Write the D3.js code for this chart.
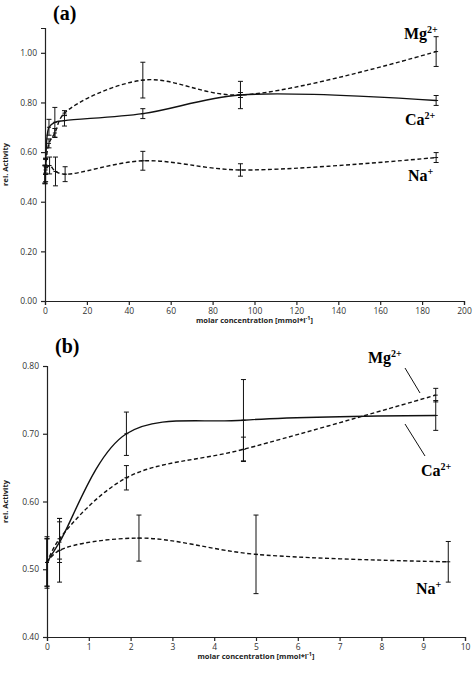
<!DOCTYPE html>
<html><head><meta charset="utf-8">
<script src="https://cdn.jsdelivr.net/npm/d3@7"></script>
<style>body{margin:0;background:#fff}svg{display:block}</style>
</head><body>
<svg id="c" width="474" height="674"></svg>
<script>
const mgX=[0,0.3,1.9,4.7,9.3,46.7,93.3,186.7];
const mgY=[0.51,0.545,0.635,0.677,0.757,0.89,0.83,1.005];
const mgE=[0.035,0.03,0.018,0.018,0.01,0.072,0.055,0.06];
const caX=[0,0.3,1.9,4.7,9.3,46.7,93.3,186.7];
const caY=[0.51,0.54,0.70,0.72,0.727,0.755,0.83,0.808];
const caE=[0.035,0.03,0.032,0.06,0.022,0.02,0.01,0.02];
const naX=[0,0.3,2.2,5.0,9.6,46.7,93.3,186.7];
const naY=[0.51,0.528,0.546,0.522,0.511,0.565,0.528,0.578];
const naE=[0.038,0.047,0.034,0.058,0.03,0.038,0.025,0.02];
const aXTicks=[0,20,40,60,80,100,120,140,160,180,200];
const aYTicks=[0,0.2,0.4,0.6,0.8,1.0];
const bXTicks=[0,1,2,3,4,5,6,7,8,9,10];
const bYTicks=[0.4,0.5,0.6,0.7,0.8];

const svg=d3.select("#c");
const series=[
 {x:mgX,y:mgY,e:mgE,dash:"4,2.5"},
 {x:caX,y:caY,e:caE,dash:null},
 {x:naX,y:naY,e:naE,dash:"4,2.5"}];

function panel(o){
  const g=svg.append("g");
  const x=d3.scaleLinear().domain(o.xd).range([o.l,o.r]);
  const y=d3.scaleLinear().domain(o.yd).range([o.b,o.t]);
  const xa=g.append("g").attr("transform",`translate(0,${o.b})`).call(d3.axisBottom(x).tickValues(o.xt).tickSize(4).tickFormat(d3.format("d")));
  const ya=g.append("g").attr("transform",`translate(${o.l},0)`).call(d3.axisLeft(y).tickValues(o.yt).tickSize(4).tickFormat(d3.format(".2f")));
  if(o.ymaxLine) ya.select(".domain").attr("d",`M-0,${o.b}V${o.tTop}`);
  [xa,ya].forEach(a=>{a.selectAll("text").attr("font-family","Open Sans, sans-serif").attr("font-size",8.5).attr("fill","#333");
    a.selectAll("path,line").attr("stroke","#222").attr("stroke-width",1.2);});
  ya.selectAll("text").attr("dx",-1);
  series.forEach(s=>{
    const pts=s.x.map((v,i)=>[v,s.y[i],s.e[i]]).filter(p=>p[0]<=o.xd[1]);
    g.append("path").datum(pts).attr("fill","none").attr("stroke","#111").attr("stroke-width",1.4)
     .attr("stroke-dasharray",s.dash).attr("d",d3.line().x(p=>x(p[0])).y(p=>y(p[1])).curve(d3.curveCatmullRom.alpha(0.5)));
    pts.forEach(p=>{
      const px=x(p[0]);
      g.append("path").attr("stroke","#111").attr("stroke-width",1).attr("fill","none")
       .attr("d",`M${px},${y(p[1]-p[2])}V${y(p[1]+p[2])}M${px-2.5},${y(p[1]-p[2])}H${px+2.5}M${px-2.5},${y(p[1]+p[2])}H${px+2.5}M${px-2},${y(p[1])}H${px+2}`);
    });
  });
  g.append("text").attr("x",(o.l+o.r)/2).attr("y",o.b+22).attr("text-anchor","middle")
   .attr("font-family","Open Sans, sans-serif").attr("font-weight","bold").attr("font-size",7.5).attr("fill","#222")
   .html("molar concentration [mmol*l<tspan dy='-3' font-size='5.5'>-1</tspan><tspan dy='3'>]</tspan>");
  g.append("text").attr("transform",`translate(8,${(o.t+o.b)/2}) rotate(-90)`).attr("text-anchor","middle")
   .attr("font-family","Open Sans, sans-serif").attr("font-weight","bold").attr("font-size",7.5).attr("fill","#222").text("rel. Activity");
  g.append("text").attr("x",o.l+8).attr("y",o.labY).attr("font-family","Liberation Serif, serif").attr("font-weight","bold").attr("font-size",20).text(o.lab);
  o.ions.forEach(t=>{
    g.append("text").attr("x",t[1]).attr("y",t[2]).attr("font-family","Liberation Serif, serif").attr("font-weight","bold").attr("font-size",16)
     .html(t[0]+`<tspan dy='-6' font-size='10'>${t[3]}</tspan>`);
  });
  return {x,y,g};
}
panel({xd:[0,200],yd:[0,1.1],l:45,r:464,t:28,b:301,xt:aXTicks,yt:aYTicks,lab:"(a)",labY:20,
  ions:[["Mg",404,39,"2+"],["Ca",405,125,"2+"],["Na",408,181,"+"]]});
const pb=panel({xd:[0,10],yd:[0.4,0.8],l:47,r:465,t:366,b:637,xt:bXTicks,yt:bYTicks,lab:"(b)",labY:353,
  ions:[["Mg",368,363,"2+"],["Ca",421,476,"2+"],["Na",416,594,"+"]]});
pb.g.append("path").attr("stroke","#111").attr("fill","none").attr("stroke-width",1)
 .attr("d","M405,368L420,393M405,424L425,456");
</script>
</body></html>
